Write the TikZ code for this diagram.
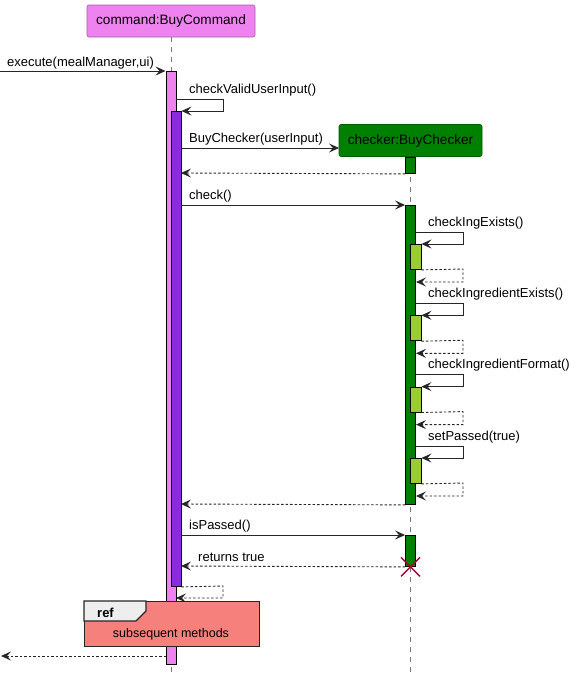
\documentclass[tikz,border=0pt]{standalone}
\usepackage{fontspec}
\setmainfont{Liberation Sans}
\usetikzlibrary{arrows.meta}
\definecolor{pviolet}{HTML}{EE82EE}
\definecolor{pbviolet}{HTML}{8A2BE2}
\definecolor{pgreen}{HTML}{008000}
\definecolor{pyg}{HTML}{9ACD32}
\definecolor{refred}{HTML}{F5807C}
\definecolor{tabgray}{HTML}{EEEEEE}
\definecolor{destroyc}{HTML}{A80036}
\definecolor{lifec}{HTML}{777777}
\begin{document}
\begin{tikzpicture}[x=1pt,y=-1pt,
  every node/.style={font=\fontsize{13}{15}\selectfont},
  partbox/.style={draw=#1!70!black, rounded corners=2pt, line width=0.6pt, inner sep=0pt, minimum height=32pt, font=\fontsize{13.6}{16}\selectfont},
  actbox/.style={draw=black, fill=#1, line width=0.9pt, inner sep=0pt, minimum width=10pt, anchor=north},
  lifeline/.style={draw=lifec, line width=0.7pt, dash pattern=on 5pt off 5pt},
  msg/.style={draw=black!85, line width=0.9pt, -{Stealth[length=10pt,width=9pt,inset=4pt]}},
  ret/.style={msg, dash pattern=on 2.5pt off 2pt},
  lbl/.style={anchor=base west, inner sep=0pt},
]
\useasboundingbox (0,0) rectangle (575,680);

% participants
\node[partbox=pviolet, fill=pviolet, minimum width=168pt] (cmd) at (171,21) {command:BuyCommand};
\node[partbox=pgreen, fill=pgreen, minimum width=143pt] (chk) at (410.5,140.5) {checker:BuyChecker};

% lifelines
\coordinate (cmdEnd) at (171,674);
\coordinate (chkEnd) at (410.5,674);
\draw[lifeline] (cmd.south) -- (cmdEnd);
\draw[lifeline] (chk.south) -- (chkEnd);

% activations on command
\node[actbox=pviolet, minimum height=593pt] (a1) at (171,71) {};
\node[actbox=pbviolet, minimum height=475pt] (a2) at (176,111) {};

% activations on checker
\node[actbox=pgreen, minimum height=16pt] (c1) at (410.5,157) {};
\node[actbox=pgreen, minimum height=299pt] (c2) at (410.5,205) {};
\node[actbox=pgreen, minimum height=31pt] (c3) at (410.5,535) {};

% execute
\coordinate (in0) at (0,71);
\draw[msg] (in0) -- (a1.north west);
\node[lbl] (lexec) at (7,66) {execute(mealManager,ui)};

% checkValidUserInput self-call
\coordinate (s1a) at (176,99);
\coordinate (s1b) at (223,99);
\coordinate (s1c) at (223,111);
\draw[msg] (s1a) -- (s1b) -- (s1c) -- (a2.north east);
\node[lbl] (lcv) at (189,93) {checkValidUserInput()};

% BuyChecker(userInput)
\coordinate (m2a) at (181,148);
\coordinate (m2b) at (339,148);
\draw[msg] (m2a) -- (m2b);
\node[lbl] (lbc) at (189,142) {BuyChecker(userInput)};
\coordinate (r2b) at (181,173);
\draw[ret] (c1.south west) -- (r2b);

% check()
\coordinate (m3a) at (181,205);
\draw[msg] (m3a) -- (c2.north west);
\node[lbl] (lchk) at (189,199) {check()};

% nested self-calls
\foreach \Y/\t/\n in {232/checkIngExists()/1, 303.3/checkIngredientExists()/2, 374.6/checkIngredientFormat()/3, 446/setPassed(true)/4}{
  \node[actbox=pyg, minimum width=11pt, minimum height=25pt] (n\n) at (415.5,\Y+12) {};
  \coordinate (o\n a) at (416,\Y);
  \coordinate (o\n b) at (463,\Y);
  \coordinate (o\n c) at (463,\Y+12);
  \draw[msg] (o\n a) -- (o\n b) -- (o\n c) -- (n\n.north east);
  \coordinate (q\n b) at (463,\Y+37);
  \coordinate (q\n c) at (463,\Y+50);
  \coordinate (q\n d) at (416,\Y+50);
  \draw[ret] (n\n.south east) -- (q\n b) -- (q\n c) -- (q\n d);
  \node[lbl] (l\n) at (428,\Y-6) {\t};
}

% return from check
\coordinate (r3b) at (181,504);
\draw[ret] (c2.south west) -- (r3b);

% isPassed()
\coordinate (m4a) at (181,535);
\draw[msg] (m4a) -- (c3.north west);
\node[lbl] (lip) at (189,529) {isPassed()};

% returns true
\coordinate (r4b) at (181,566);
\draw[ret] (c3.south west) -- (r4b);
\node[lbl] (lrt) at (198,561) {returns true};

% destroy
\draw[destroyc, line width=1.4pt] ([shift={(-9.5,-9.5)}]c3.south) -- ([shift={(9.5,9.5)}]c3.south)
  ([shift={(-9.5,9.5)}]c3.south) -- ([shift={(9.5,-9.5)}]c3.south);

% self return after inner activation
\coordinate (r5b) at (223,586);
\coordinate (r5c) at (223,598);
\coordinate (r5d) at (176,598);
\draw[ret] (a2.south east) -- (r5b) -- (r5c) -- (r5d);

% ref box
\node[draw=black!85, fill=refred, line width=1.3pt, minimum width=175pt, minimum height=45pt, inner sep=0pt, anchor=north west] (ref) at (84,601) {};
\filldraw[draw=black!85, fill=tabgray, line width=1.3pt] (ref.north west) -- ++(62,0) -- ++(0,10) -- ++(-10,10) -- ++(-52,0) -- cycle;
\node[anchor=base west, inner sep=0pt, font=\fontsize{13}{15}\selectfont\bfseries] (lref) at (97,617.5) {ref};
\node[anchor=base, inner sep=0pt, font=\fontsize{12.5}{15}\selectfont] (lsub) at (171,637.5) {subsequent methods};

% final return
\coordinate (out0) at (1,656);
\coordinate (a1r) at (166,656);
\draw[ret] (a1r) -- (out0);
\end{tikzpicture}
\end{document}
